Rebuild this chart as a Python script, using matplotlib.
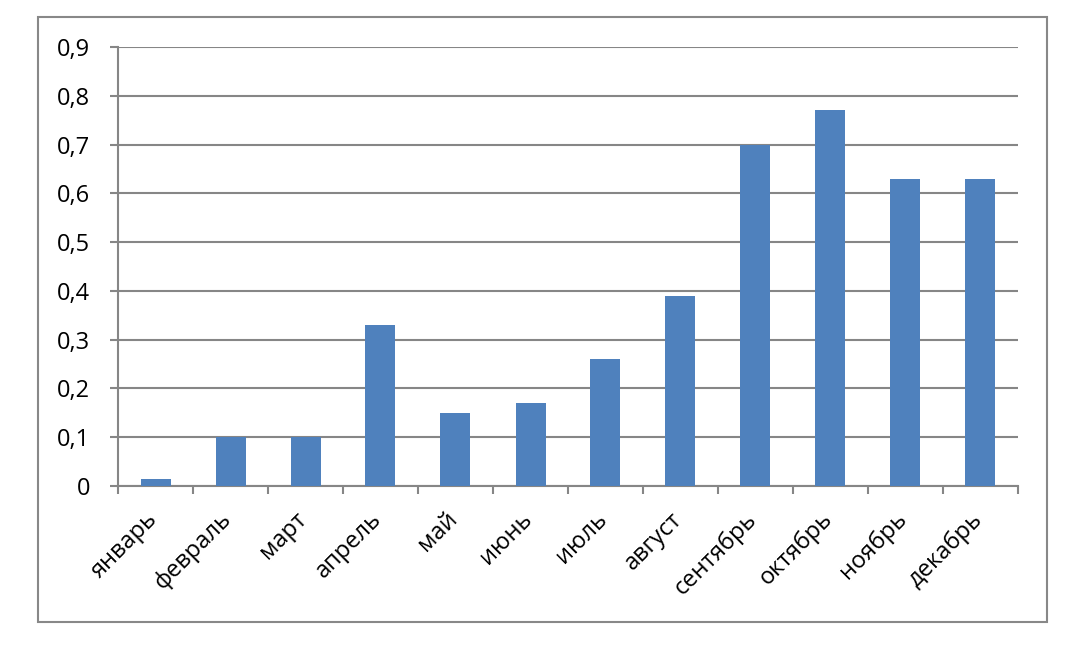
import numpy as np
import matplotlib.pyplot as plt
from matplotlib.patches import Rectangle
from matplotlib.ticker import FuncFormatter

# data
months = ["январь", "февраль", "март", "апрель", "май", "июнь",
          "июль", "август", "сентябрь", "октябрь", "ноябрь", "декабрь"]
values = [0.015, 0.10, 0.10, 0.33, 0.15, 0.17, 0.26, 0.39, 0.70, 0.77, 0.63, 0.63]
yticks = [0, 0.1, 0.2, 0.3, 0.4, 0.5, 0.6, 0.7, 0.8, 0.9]

plt.rcParams['font.family'] = ['Open Sans', 'DejaVu Sans']
grid_col = '#868686'

fig = plt.figure(figsize=(10.84, 6.51), dpi=100)
ax = fig.add_axes([118/1084, 1 - 486/651, 900/1084, 439/651])

x = np.arange(len(months))
ax.bar(x, values, width=0.4, color='#4F81BD', zorder=3)

ax.set_xlim(-0.5, len(months) - 0.5)
ax.set_ylim(0, 0.9)
ax.set_yticks(yticks)
ax.yaxis.set_major_formatter(FuncFormatter(lambda v, p: ('%g' % round(v, 1)).replace('.', ',')))
ax.grid(axis='y', color=grid_col, linewidth=1.5, zorder=0)

# tick marks on category boundaries, month names placed by hand below
ax.set_xticks(np.arange(-0.5, len(months)))
ax.set_xticklabels([])
for xi, m in zip(x, months):
    ax.annotate(m, xy=(xi, 0), xycoords=('data', 'axes fraction'),
                xytext=(-2, -30), textcoords='offset pixels',
                rotation=45, ha='right', va='center', rotation_mode='anchor',
                fontsize=17, annotation_clip=False)
ax.tick_params(axis='x', length=6, width=1.5, color=grid_col)
ax.tick_params(axis='y', length=6, width=1.5, color=grid_col, labelsize=17, pad=14)

for s in ['top', 'right']:
    ax.spines[s].set_visible(False)
for s in ['left', 'bottom']:
    ax.spines[s].set_color(grid_col)
    ax.spines[s].set_linewidth(1.5)

# chart-area border
fig.patches.append(Rectangle((38/1084, 1 - 622/651), 1009/1084, 605/651,
                             transform=fig.transFigure, fill=False,
                             edgecolor='#888888', linewidth=1.5))

fig.savefig('out.png', dpi=100)
